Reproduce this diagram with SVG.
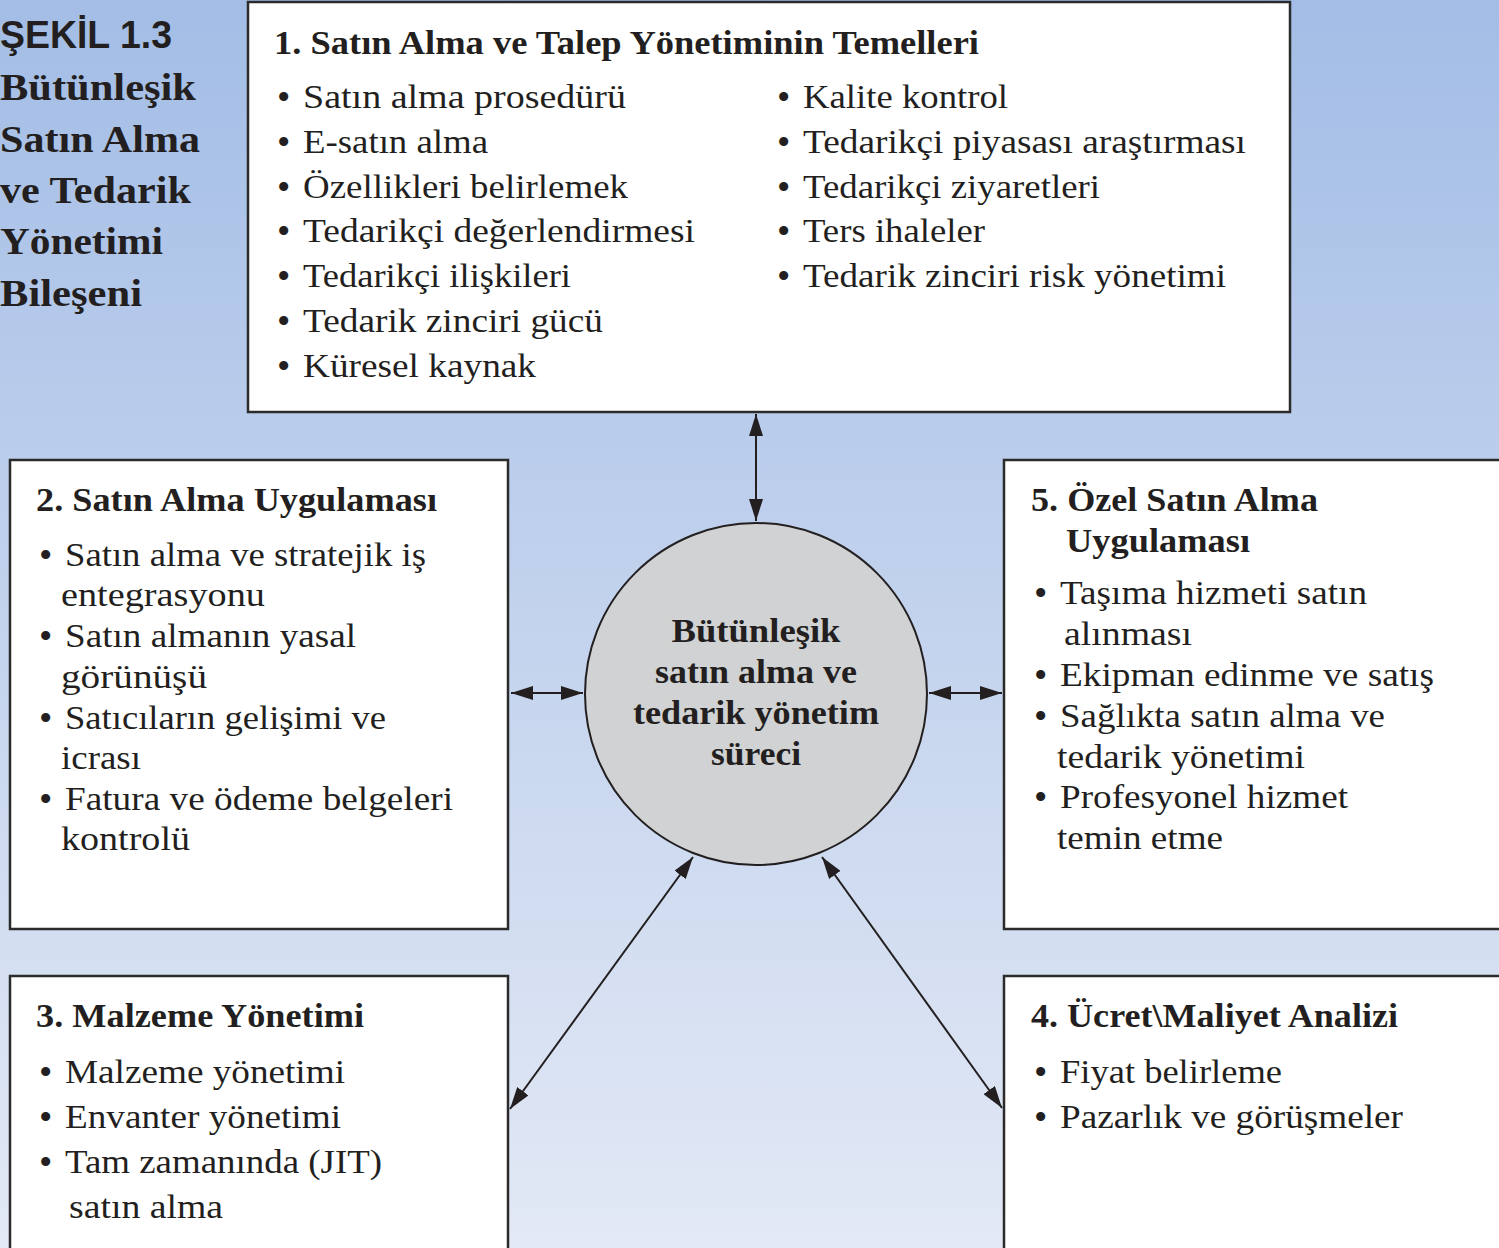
<svg xmlns="http://www.w3.org/2000/svg" width="1499" height="1248" viewBox="0 0 1499 1248">
  <defs>
    <linearGradient id="bg" x1="0" y1="0" x2="0" y2="1">
      <stop offset="0" stop-color="#a3bde6"/>
      <stop offset="1" stop-color="#e3e9f5"/>
    </linearGradient>
    <marker id="head" viewBox="0 0 22 14" markerUnits="userSpaceOnUse" markerWidth="22" markerHeight="14" refX="22" refY="7" orient="auto-start-reverse">
      <path d="M0,0 L22,7 L0,14 z" fill="#231f20"/>
    </marker>
    <style>
      .box { fill: #ffffff; stroke: #2b2b2b; stroke-width: 2.5; }
      .hub { fill: #d1d2d4; stroke: #231f20; stroke-width: 2; }
      .link { stroke: #231f20; stroke-width: 2; fill: none; marker-start: url(#head); marker-end: url(#head); }
      text { fill: #231f20; font-family: "Liberation Serif", "DejaVu Serif", serif; }
      .cap { font-size: 38px; font-weight: bold; }
      .fig { font-family: "Liberation Sans", "DejaVu Sans", sans-serif; font-size: 38px; font-weight: bold; }
      .hd { font-size: 33px; font-weight: bold; }
      .it { font-size: 34px; }
      .it .bl { font-size: 38px; }
      .ctr { font-size: 33px; font-weight: bold; text-anchor: middle; }
    </style>
  </defs>

  <rect x="0" y="0" width="1499" height="1248" fill="url(#bg)"/>

  <!-- figure caption -->
  <g id="caption">
    <text class="fig" x="0" y="48" textLength="172" lengthAdjust="spacingAndGlyphs">ŞEKİL 1.3</text>
    <text class="cap" x="0" y="100" textLength="196" lengthAdjust="spacingAndGlyphs">Bütünleşik</text>
    <text class="cap" x="0" y="152" textLength="200" lengthAdjust="spacingAndGlyphs">Satın Alma</text>
    <text class="cap" x="0" y="203" textLength="191" lengthAdjust="spacingAndGlyphs">ve Tedarik</text>
    <text class="cap" x="0" y="254" textLength="163" lengthAdjust="spacingAndGlyphs">Yönetimi</text>
    <text class="cap" x="0" y="306" textLength="142" lengthAdjust="spacingAndGlyphs">Bileşeni</text>
  </g>

  <!-- connectors -->
  <g id="connectors">
    <line class="link" x1="756" y1="414" x2="756" y2="521"/>
    <line class="link" x1="511" y1="693" x2="583" y2="693"/>
    <line class="link" x1="929" y1="693" x2="1002" y2="693"/>
    <line class="link" x1="693" y1="857" x2="510" y2="1109"/>
    <line class="link" x1="822" y1="857" x2="1002" y2="1108"/>
  </g>

  <!-- 1: foundations -->
  <g id="node1">
    <rect class="box" x="248" y="2" width="1042" height="410"/>
    <text class="hd" x="274" y="54" textLength="705" lengthAdjust="spacingAndGlyphs">1. Satın Alma ve Talep Yönetiminin Temelleri</text>
    <g class="it">
      <text><tspan class="bl" x="277" y="110">•</tspan><tspan x="303" y="108" textLength="323" lengthAdjust="spacingAndGlyphs">Satın alma prosedürü</tspan></text>
      <text><tspan class="bl" x="277" y="155">•</tspan><tspan x="303" y="153" textLength="185" lengthAdjust="spacingAndGlyphs">E-satın alma</tspan></text>
      <text><tspan class="bl" x="277" y="200">•</tspan><tspan x="303" y="198" textLength="325" lengthAdjust="spacingAndGlyphs">Özellikleri belirlemek</tspan></text>
      <text><tspan class="bl" x="277" y="244">•</tspan><tspan x="303" y="242" textLength="392" lengthAdjust="spacingAndGlyphs">Tedarikçi değerlendirmesi</tspan></text>
      <text><tspan class="bl" x="277" y="289">•</tspan><tspan x="303" y="287" textLength="268" lengthAdjust="spacingAndGlyphs">Tedarikçi ilişkileri</tspan></text>
      <text><tspan class="bl" x="277" y="334">•</tspan><tspan x="303" y="332" textLength="300" lengthAdjust="spacingAndGlyphs">Tedarik zinciri gücü</tspan></text>
      <text><tspan class="bl" x="277" y="379">•</tspan><tspan x="303" y="377" textLength="233" lengthAdjust="spacingAndGlyphs">Küresel kaynak</tspan></text>
      <text><tspan class="bl" x="777" y="110">•</tspan><tspan x="803" y="108" textLength="205" lengthAdjust="spacingAndGlyphs">Kalite kontrol</tspan></text>
      <text><tspan class="bl" x="777" y="155">•</tspan><tspan x="803" y="153" textLength="443" lengthAdjust="spacingAndGlyphs">Tedarikçi piyasası araştırması</tspan></text>
      <text><tspan class="bl" x="777" y="200">•</tspan><tspan x="803" y="198" textLength="297" lengthAdjust="spacingAndGlyphs">Tedarikçi ziyaretleri</tspan></text>
      <text><tspan class="bl" x="777" y="244">•</tspan><tspan x="803" y="242" textLength="182" lengthAdjust="spacingAndGlyphs">Ters ihaleler</tspan></text>
      <text><tspan class="bl" x="777" y="289">•</tspan><tspan x="803" y="287" textLength="423" lengthAdjust="spacingAndGlyphs">Tedarik zinciri risk yönetimi</tspan></text>
    </g>
  </g>

  <!-- 2: purchasing practice -->
  <g id="node2">
    <rect class="box" x="10" y="460" width="498" height="469"/>
    <text class="hd" x="36" y="511" textLength="401" lengthAdjust="spacingAndGlyphs">2. Satın Alma Uygulaması</text>
    <g class="it">
      <text><tspan class="bl" x="39" y="568">•</tspan><tspan x="65" y="566" textLength="361" lengthAdjust="spacingAndGlyphs">Satın alma ve stratejik iş</tspan></text>
      <text x="61" y="606" textLength="204" lengthAdjust="spacingAndGlyphs">entegrasyonu</text>
      <text><tspan class="bl" x="39" y="649">•</tspan><tspan x="65" y="647" textLength="291" lengthAdjust="spacingAndGlyphs">Satın almanın yasal</tspan></text>
      <text x="61" y="688" textLength="146" lengthAdjust="spacingAndGlyphs">görünüşü</text>
      <text><tspan class="bl" x="39" y="731">•</tspan><tspan x="65" y="729" textLength="321" lengthAdjust="spacingAndGlyphs">Satıcıların gelişimi ve</tspan></text>
      <text x="61" y="769" textLength="80" lengthAdjust="spacingAndGlyphs">icrası</text>
      <text><tspan class="bl" x="39" y="812">•</tspan><tspan x="65" y="810" textLength="388" lengthAdjust="spacingAndGlyphs">Fatura ve ödeme belgeleri</tspan></text>
      <text x="61" y="850" textLength="129" lengthAdjust="spacingAndGlyphs">kontrolü</text>
    </g>
  </g>

  <!-- 3: materials management -->
  <g id="node3">
    <rect class="box" x="10" y="976" width="498" height="290"/>
    <text class="hd" x="36" y="1027" textLength="328" lengthAdjust="spacingAndGlyphs">3. Malzeme Yönetimi</text>
    <g class="it">
      <text><tspan class="bl" x="39" y="1085">•</tspan><tspan x="65" y="1083" textLength="280" lengthAdjust="spacingAndGlyphs">Malzeme yönetimi</tspan></text>
      <text><tspan class="bl" x="39" y="1130">•</tspan><tspan x="65" y="1128" textLength="276" lengthAdjust="spacingAndGlyphs">Envanter yönetimi</tspan></text>
      <text><tspan class="bl" x="39" y="1175">•</tspan><tspan x="65" y="1173" textLength="317" lengthAdjust="spacingAndGlyphs">Tam zamanında (JIT)</tspan></text>
      <text x="69" y="1218" textLength="154" lengthAdjust="spacingAndGlyphs">satın alma</text>
    </g>
  </g>

  <!-- 4: price and cost analysis -->
  <g id="node4">
    <rect class="box" x="1004" y="976" width="520" height="290"/>
    <text class="hd" x="1031" y="1027" textLength="367" lengthAdjust="spacingAndGlyphs">4. Ücret\Maliyet Analizi</text>
    <g class="it">
      <text><tspan class="bl" x="1034" y="1085">•</tspan><tspan x="1060" y="1083" textLength="222" lengthAdjust="spacingAndGlyphs">Fiyat belirleme</tspan></text>
      <text><tspan class="bl" x="1034" y="1130">•</tspan><tspan x="1060" y="1128" textLength="343" lengthAdjust="spacingAndGlyphs">Pazarlık ve görüşmeler</tspan></text>
    </g>
  </g>

  <!-- 5: special purchasing -->
  <g id="node5">
    <rect class="box" x="1004" y="460" width="520" height="469"/>
    <text class="hd" x="1031" y="511" textLength="287" lengthAdjust="spacingAndGlyphs">5. Özel Satın Alma</text>
    <text class="hd" x="1066" y="552" textLength="184" lengthAdjust="spacingAndGlyphs">Uygulaması</text>
    <g class="it">
      <text><tspan class="bl" x="1034" y="606">•</tspan><tspan x="1060" y="604" textLength="307" lengthAdjust="spacingAndGlyphs">Taşıma hizmeti satın</tspan></text>
      <text x="1064" y="645" textLength="128" lengthAdjust="spacingAndGlyphs">alınması</text>
      <text><tspan class="bl" x="1034" y="688">•</tspan><tspan x="1060" y="686" textLength="374" lengthAdjust="spacingAndGlyphs">Ekipman edinme ve satış</tspan></text>
      <text><tspan class="bl" x="1034" y="729">•</tspan><tspan x="1060" y="727" textLength="325" lengthAdjust="spacingAndGlyphs">Sağlıkta satın alma ve</tspan></text>
      <text x="1057" y="768" textLength="248" lengthAdjust="spacingAndGlyphs">tedarik yönetimi</text>
      <text><tspan class="bl" x="1034" y="810">•</tspan><tspan x="1060" y="808" textLength="288" lengthAdjust="spacingAndGlyphs">Profesyonel hizmet</tspan></text>
      <text x="1057" y="849" textLength="166" lengthAdjust="spacingAndGlyphs">temin etme</text>
    </g>
  </g>

  <!-- central process -->
  <g id="hub">
    <circle class="hub" cx="756" cy="694" r="171"/>
    <text class="ctr" x="756" y="642" textLength="169" lengthAdjust="spacingAndGlyphs">Bütünleşik</text>
    <text class="ctr" x="756" y="683" textLength="202" lengthAdjust="spacingAndGlyphs">satın alma ve</text>
    <text class="ctr" x="756" y="724" textLength="246" lengthAdjust="spacingAndGlyphs">tedarik yönetim</text>
    <text class="ctr" x="756" y="765" textLength="90" lengthAdjust="spacingAndGlyphs">süreci</text>
  </g>
</svg>
